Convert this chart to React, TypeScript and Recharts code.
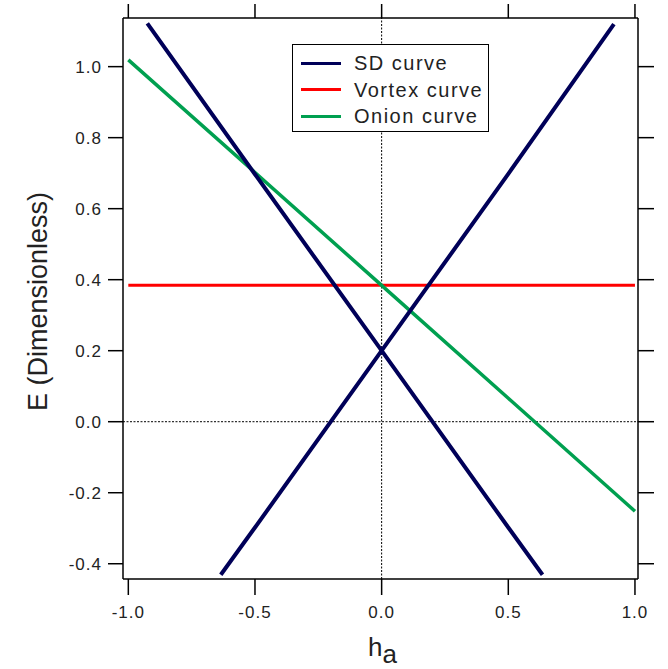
import React from "react";
import {
  LineChart,
  Line,
  XAxis,
  YAxis,
  ReferenceLine,
  Legend,
} from "recharts";

// values (h_a, E)
const sdFallH = [-0.925, -0.5, 0, 0.5, 0.635];
const sdFallE = [1.122, 0.697, 0.2, -0.298, -0.431];
const sdRiseH = [-0.635, -0.5, 0, 0.5, 0.917];
const sdRiseE = [-0.431, -0.298, 0.2, 0.698, 1.12];
const vortexH = [-1.0, 0, 1.0];
const vortexE = [0.384, 0.384, 0.384];
const onionH = [-1.0, -0.5, 0, 0.5, 1.0];
const onionE = [1.019, 0.702, 0.384, 0.066, -0.252];

const xTicks = [-1.0, -0.5, 0, 0.5, 1.0];
const yTicks = [-0.4, -0.2, 0, 0.2, 0.4, 0.6, 0.8, 1.0];

const legendNames = ["SD curve", "Vortex curve", "Onion curve"];
const legendColors = ["#000058", "#ff0000", "#00a050"];

const zip = (hs: number[], es: number[]) => hs.map((h, i) => ({ h, e: es[i] }));

const sdFall = zip(sdFallH, sdFallE);
const sdRise = zip(sdRiseH, sdRiseE);
const vortex = zip(vortexH, vortexE);
const onion = zip(onionH, onionE);

const FONT = "'Liberation Sans', Arial, sans-serif";
const X_DOMAIN: [number, number] = [-1.021, 1.012];
const Y_DOMAIN: [number, number] = [-0.443, 1.137];

const axisStroke = { stroke: "#000", strokeWidth: 1.5 };

function BottomTick(props: any) {
  const { x, y, payload } = props;
  return (
    <text
      x={x}
      y={y}
      dy="0.71em"
      textAnchor="middle"
      fontFamily={FONT}
      fontSize={17}
      fill="#222"
      style={{ letterSpacing: 1 }}
    >
      {Number(payload.value).toFixed(1)}
    </text>
  );
}

function LeftTick(props: any) {
  const { x, y, payload } = props;
  return (
    <text
      x={x}
      y={y}
      dy="0.36em"
      textAnchor="end"
      fontFamily={FONT}
      fontSize={17}
      fill="#222"
      style={{ letterSpacing: 1 }}
    >
      {Number(payload.value).toFixed(1)}
    </text>
  );
}

const NoTick = () => <g />;

function YTitle(props: any) {
  const vb = props.viewBox || { y: 18, height: 561 };
  const cy = vb.y + vb.height / 2 + 3;
  return (
    <text
      x={47}
      y={cy}
      transform={`rotate(-90, 47, ${cy})`}
      textAnchor="middle"
      fontFamily={FONT}
      fontSize={27}
      fill="#222"
    >
      E (Dimensionless)
    </text>
  );
}

function XTitle() {
  return (
    <text x={368} y={656} fontFamily={FONT} fontSize={26} fill="#222">
      <tspan>h</tspan>
      <tspan dy={7}>a</tspan>
    </text>
  );
}

function LegendBox() {
  return (
    <div
      style={{
        border: "1.5px solid #000",
        background: "#fff",
        width: 197,
        height: 88,
        boxSizing: "border-box",
        padding: "5px 0 0 8px",
        fontFamily: FONT,
        fontSize: 20,
        letterSpacing: 1.5,
        lineHeight: "26.5px",
        color: "#222",
        textAlign: "left",
      }}
    >
      {legendNames.map((name, i) => (
        <div key={name} style={{ display: "flex", alignItems: "center", height: 26.5 }}>
          <span
            style={{
              display: "inline-block",
              width: 40,
              height: 3,
              background: legendColors[i],
              marginRight: 13,
            }}
          />
          <span>{name}</span>
        </div>
      ))}
    </div>
  );
}

export default function App() {
  return (
    <div style={{ position: "absolute", left: 0, top: 0, background: "#fff" }}>
      <LineChart width={668} height={669} margin={{ top: 0, right: 0, bottom: 0, left: 0 }}>
        <XAxis
          xAxisId="b"
          dataKey="h"
          type="number"
          domain={X_DOMAIN}
          allowDataOverflow
          ticks={xTicks}
          height={90}
          tickSize={16}
          tickMargin={11}
          tick={<BottomTick />}
          axisLine={axisStroke}
          tickLine={axisStroke}
          label={<XTitle />}
        />
        <XAxis
          xAxisId="t"
          orientation="top"
          dataKey="h"
          type="number"
          domain={X_DOMAIN}
          allowDataOverflow
          ticks={xTicks}
          height={18}
          tickSize={14}
          tick={<NoTick />}
          axisLine={axisStroke}
          tickLine={axisStroke}
        />
        <YAxis
          yAxisId="l"
          type="number"
          domain={Y_DOMAIN}
          allowDataOverflow
          ticks={yTicks}
          width={123}
          tickSize={15}
          tickMargin={6}
          tick={<LeftTick />}
          axisLine={axisStroke}
          tickLine={axisStroke}
          label={<YTitle />}
        />
        <YAxis
          yAxisId="r"
          orientation="right"
          type="number"
          domain={Y_DOMAIN}
          allowDataOverflow
          ticks={yTicks}
          width={30}
          tickSize={16}
          tick={<NoTick />}
          axisLine={axisStroke}
          tickLine={axisStroke}
        />
        <ReferenceLine
          xAxisId="b"
          yAxisId="l"
          x={0}
          stroke="#000"
          strokeWidth={1}
          strokeDasharray="2 1.5"
        />
        <ReferenceLine
          xAxisId="b"
          yAxisId="l"
          y={0}
          stroke="#000"
          strokeWidth={1}
          strokeDasharray="2 1.5"
        />
        <Line
          xAxisId="b"
          yAxisId="l"
          data={vortex}
          dataKey="e"
          type="linear"
          stroke={legendColors[1]}
          strokeWidth={3}
          dot={false}
          isAnimationActive={false}
        />
        <Line
          xAxisId="b"
          yAxisId="l"
          data={onion}
          dataKey="e"
          type="linear"
          stroke={legendColors[2]}
          strokeWidth={3.5}
          dot={false}
          isAnimationActive={false}
        />
        <Line
          xAxisId="b"
          yAxisId="l"
          data={sdFall}
          dataKey="e"
          type="linear"
          stroke={legendColors[0]}
          strokeWidth={4}
          dot={false}
          isAnimationActive={false}
        />
        <Line
          xAxisId="b"
          yAxisId="l"
          data={sdRise}
          dataKey="e"
          type="linear"
          stroke={legendColors[0]}
          strokeWidth={4}
          dot={false}
          isAnimationActive={false}
        />
        <Legend
          layout="horizontal"
          verticalAlign="middle"
          align="center"
          content={<LegendBox />}
          wrapperStyle={{ position: "absolute", left: 292, top: 44, width: 197, height: 88 }}
        />
      </LineChart>
    </div>
  );
}
